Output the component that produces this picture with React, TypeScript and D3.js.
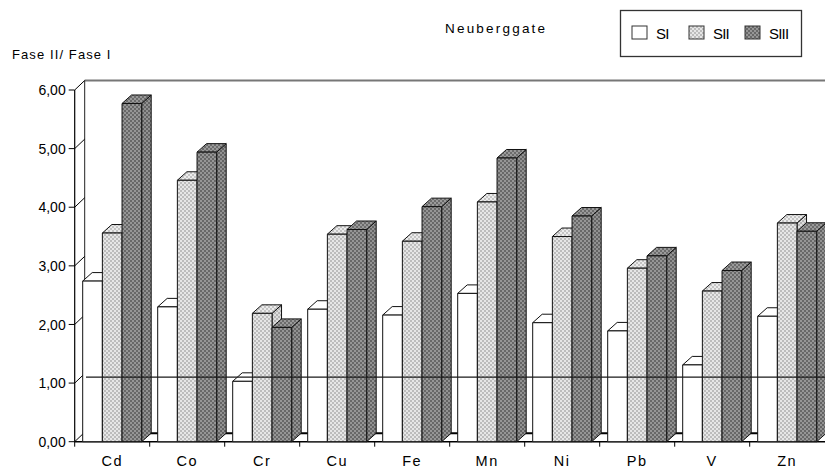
import React from "react";
import * as d3 from "d3";

const categories = ["Cd", "Co", "Cr", "Cu", "Fe", "Mn", "Ni", "Pb", "V", "Zn"];
const seriesNames = ["SI", "SII", "SIII"];
const valuesSI = [2.74, 2.3, 1.03, 2.26, 2.16, 2.53, 2.03, 1.89, 1.31, 2.14];
const valuesSII = [3.56, 4.46, 2.19, 3.54, 3.42, 4.09, 3.5, 2.96, 2.57, 3.73];
const valuesSIII = [5.77, 4.94, 1.95, 3.62, 4.01, 4.84, 3.85, 3.17, 2.92, 3.59];
const yTicks = [0, 1, 2, 3, 4, 5, 6];
const referenceValue = 1.1;
const title = "Neuberggate";
const yTitle = "Fase II/ Fase I";

const W = 825;
const H = 468;
const x0 = 74.7;
const x1 = 824.7;
const yBase = 441.7;
const yTop = 90;
const wallDx = 10;
const wallDy = 9.5;
const barDx = 9.5;
const barDy = 8.5;
const FONT = "'Liberation Sans', Arial, Helvetica, sans-serif";

const locale = d3.formatLocale({ decimal: ",", thousands: ".", grouping: [3], currency: ["", ""] });
const fmt = locale.format(".2f");

const seriesValues = [valuesSI, valuesSII, valuesSIII];
const fills = ["#ffffff", "url(#patSII)", "url(#patSIII)"];
const sideFills = ["#ffffff", "url(#patSIIside)", "url(#patSIIIside)"];
const topFills = ["#ffffff", "url(#patSIItop)", "url(#patSIIItop)"];

export default function App() {
  const xCat = d3
    .scaleBand<string>()
    .domain(categories)
    .range([x0, x1])
    .paddingInner(16 / 75)
    .paddingOuter(8 / 75);
  const xSer = d3.scaleBand<string>().domain(seriesNames).range([0, xCat.bandwidth()]).padding(0);
  const y = d3.scaleLinear().domain([0, 6]).range([yBase, yTop]);
  const bw = xSer.bandwidth();

  const bars: React.ReactNode[] = [];
  categories.forEach((c, ci) => {
    seriesNames.forEach((s, si) => {
      const v = seriesValues[si][ci];
      const bx = (xCat(c) as number) + (xSer(s) as number);
      const ty = y(v);
      const by = y(0);
      const front = `M${bx},${by}L${bx},${ty}L${bx + bw},${ty}L${bx + bw},${by}Z`;
      const side = `M${bx + bw},${by}L${bx + bw},${ty}L${bx + bw + barDx},${ty - barDy}L${bx + bw + barDx},${by - barDy}Z`;
      const top = `M${bx},${ty}L${bx + barDx},${ty - barDy}L${bx + bw + barDx},${ty - barDy}L${bx + bw},${ty}Z`;
      bars.push(
        <g key={`${c}-${s}`}>
          <path d={side} fill={sideFills[si]} stroke="#111" strokeWidth={1} strokeLinejoin="round" />
          <path d={top} fill={topFills[si]} stroke="#111" strokeWidth={1} strokeLinejoin="round" />
          <path d={front} fill={fills[si]} stroke="#111" strokeWidth={1} strokeLinejoin="round" />
        </g>
      );
    });
  });

  const pattern = (id: string, base: string, dot: string) => (
    <pattern id={id} width={4} height={4} patternUnits="userSpaceOnUse">
      <rect width={4} height={4} fill={base} />
      <rect x={0} y={0} width={2} height={2} fill={dot} />
      <rect x={2} y={2} width={2} height={2} fill={dot} />
    </pattern>
  );

  const legendX = [632, 689, 745];

  return (
    <svg
      width={W}
      height={H}
      style={{ position: "absolute", left: 0, top: 0, background: "#fff" }}
      fontFamily={FONT}
    >
      <defs>
        {pattern("patSII", "#bcbcbc", "#e6e6e6")}
        {pattern("patSIIside", "#b4b4b4", "#dedede")}
        {pattern("patSIItop", "#c4c4c4", "#ececec")}
        {pattern("patSIII", "#686868", "#969696")}
        {pattern("patSIIIside", "#646464", "#929292")}
        {pattern("patSIIItop", "#6c6c6c", "#9a9a9a")}
      </defs>

      {/* back wall edges */}
      <line x1={x0 + wallDx} y1={yTop - wallDy} x2={W} y2={yTop - wallDy} stroke="#777" strokeWidth={2} />
      <line x1={x0 + wallDx} y1={yTop - wallDy} x2={x0 + wallDx} y2={yBase - barDy} stroke="#222" strokeWidth={1} />
      {/* floor back edge */}
      <line x1={x0 + barDx} y1={yBase - barDy} x2={W} y2={yBase - barDy} stroke="#000" strokeWidth={2} />

      {/* y axis */}
      <line x1={x0} y1={y(6)} x2={x0} y2={yBase} stroke="#000" strokeWidth={1.2} />
      {yTicks.map((t) => (
        <g key={t}>
          <line x1={x0 - 6} y1={y(t)} x2={x0} y2={y(t)} stroke="#000" strokeWidth={1} />
          <line x1={x0} y1={y(t)} x2={x0 + wallDx} y2={y(t) - wallDy} stroke="#000" strokeWidth={1} />
          <text x={x0 - 9} y={y(t)} dy="0.36em" textAnchor="end" fontSize={14} fill="#000">
            {fmt(t)}
          </text>
        </g>
      ))}

      {/* x axis baseline */}
      <line x1={x0} y1={yBase} x2={W} y2={yBase} stroke="#000" strokeWidth={1.5} />

      {bars}

      {/* reference line */}
      <line x1={86} y1={y(referenceValue)} x2={W} y2={y(referenceValue)} stroke="#1a1a1a" strokeWidth={1.2} />

      {/* x ticks and labels */}
      {categories.map((c, i) => {
        const left = x0 + i * xCat.step();
        return <line key={`t${c}`} x1={left} y1={yBase} x2={left} y2={yBase + 5} stroke="#000" strokeWidth={1} />;
      })}
      {categories.map((c) => (
        <text
          key={`l${c}`}
          x={(xCat(c) as number) + xCat.bandwidth() / 2}
          y={466}
          textAnchor="middle"
          fontSize={14.5}
          letterSpacing={1.5}
          fill="#000"
        >
          {c}
        </text>
      ))}

      {/* titles */}
      <text x={12} y={59} fontSize={13} letterSpacing={1.1} fill="#000">
        {yTitle}
      </text>
      <text x={445} y={33} fontSize={13.5} letterSpacing={2.2} fill="#000">
        {title}
      </text>

      {/* legend */}
      <rect x={620.5} y={10.5} width={181} height={46} fill="#fff" stroke="#333" strokeWidth={1.3} />
      {seriesNames.map((s, i) => (
        <g key={`lg${s}`}>
          <rect x={legendX[i]} y={26} width={15} height={13} fill={fills[i]} stroke="#333" strokeWidth={1} />
          <text x={legendX[i] + 24} y={39} fontSize={15} letterSpacing={-0.8} fill="#000">
            {s}
          </text>
        </g>
      ))}
    </svg>
  );
}
